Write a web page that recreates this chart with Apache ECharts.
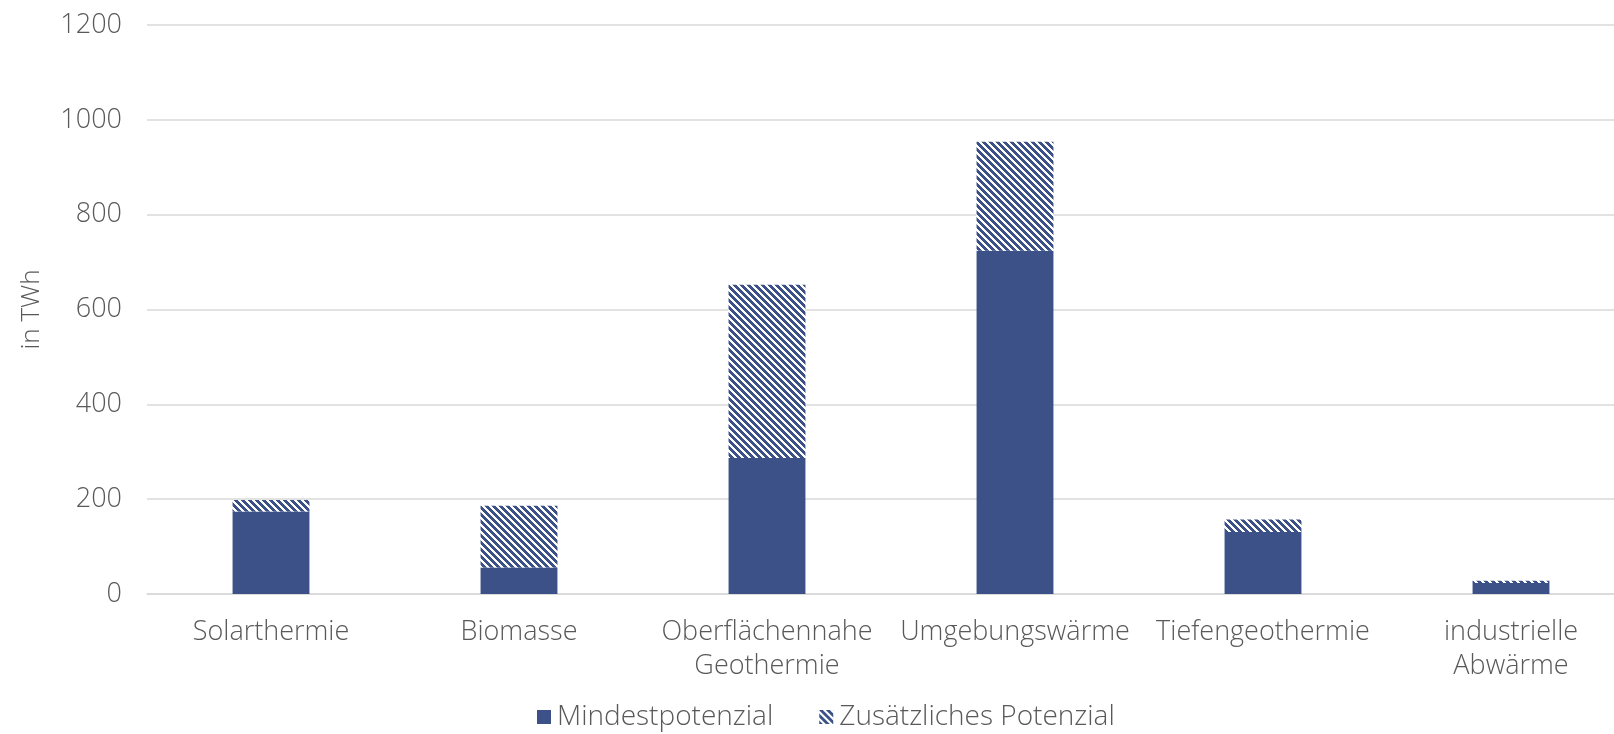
<!DOCTYPE html>
<html>
<head>
<meta charset="utf-8">
<script src="https://cdn.jsdelivr.net/npm/echarts@6/dist/echarts.min.js"></script>
<style>
  html, body { margin: 0; padding: 0; background: #ffffff; overflow: hidden; }
  /* the drawing area runs a little past the right edge of the window */
  #chart { width: 1635px; height: 734px; }
</style>
</head>
<body>
<div id="chart"></div>
<script>
// Heat source potentials (TWh)
const categories = ['Solarthermie', 'Biomasse', 'Oberflächennahe\nGeothermie', 'Umgebungswärme', 'Tiefengeothermie', 'industrielle\nAbwärme'];
const mindestpotenzial = [174, 56, 287, 724, 131, 23];
const zusaetzlichesPotenzial = [24, 130, 365, 230, 26, 5];
const yTicks = [0, 200, 400, 600, 800, 1000, 1200];

const BLUE = '#3B5188';
const TEXT = '#595959';
const FONT = '"Open Sans", Lato, sans-serif';

// Diagonal "\" stripe tile for the additional potential
function stripeTile() {
  const p = 7, w = 4;
  const c = document.createElement('canvas');
  c.width = p; c.height = p;
  const ctx = c.getContext('2d');
  ctx.fillStyle = '#ffffff';
  ctx.fillRect(0, 0, p, p);
  ctx.fillStyle = BLUE;
  for (let y = 0; y < p; y++) {
    for (let x = 0; x < p; x++) {
      if (((x - y) % p + p) % p < w) ctx.fillRect(x, y, 1, 1);
    }
  }
  return c;
}
const hatch = { image: stripeTile(), repeat: 'repeat' };

const chart = echarts.init(document.getElementById('chart'));
chart.setOption({
  animation: false,
  grid: { left: 147, right: 0, top: 25, bottom: 140, containLabel: false },
  legend: {
    top: 703,
    left: 537,
    padding: 0,
    itemWidth: 14,
    itemHeight: 14,
    itemGap: 46,
    icon: 'rect',
    textStyle: { color: TEXT, fontSize: 28, fontFamily: FONT, fontWeight: 300, padding: [0, 0, 0, 1] },
    data: ['Mindestpotenzial', 'Zusätzliches Potenzial']
  },
  xAxis: {
    type: 'category',
    data: categories,
    axisLine: { lineStyle: { color: '#D9D9D9', width: 1.5 } },
    axisTick: { show: false },
    axisLabel: {
      color: TEXT, fontSize: 27, fontFamily: FONT, fontWeight: 300,
      margin: 21, lineHeight: 34, interval: 0
    }
  },
  yAxis: {
    type: 'value',
    min: yTicks[0],
    max: yTicks[yTicks.length - 1],
    interval: 200,
    name: 'in TWh',
    nameLocation: 'middle',
    nameGap: 102,
    nameRotate: 90,
    nameTextStyle: { color: TEXT, fontSize: 26, fontFamily: FONT, fontWeight: 300 },
    axisLine: { show: false },
    axisTick: { show: false },
    splitLine: { lineStyle: { color: '#D9D9D9', width: 1.5 } },
    axisLabel: {
      color: TEXT, fontSize: 27, fontFamily: FONT, fontWeight: 300, margin: 25,
      formatter: v => String(v)
    }
  },
  series: [
    {
      name: 'Mindestpotenzial',
      type: 'bar',
      stack: 'total',
      barWidth: '31%',
      data: mindestpotenzial,
      itemStyle: { color: BLUE }
    },
    {
      name: 'Zusätzliches Potenzial',
      type: 'bar',
      stack: 'total',
      barWidth: '31%',
      data: zusaetzlichesPotenzial,
      itemStyle: { color: hatch }
    }
  ]
});
</script>
</body>
</html>
